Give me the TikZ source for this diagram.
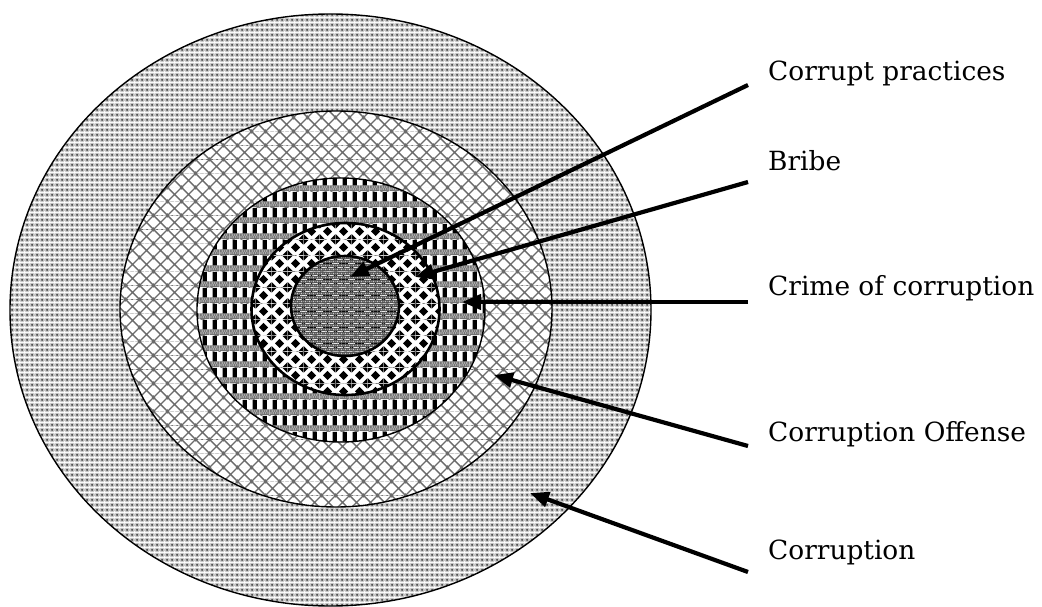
\documentclass[tikz,border=0pt]{standalone}
\usepackage{fontspec}
\setmainfont{DejaVu Serif}
\usetikzlibrary{patterns,arrows.meta}

% outer ring: grey dots on light grey
\pgfdeclarepatterninherentlycolored{ringdots}{\pgfpointorigin}{\pgfqpoint{5bp}{5bp}}{\pgfqpoint{5bp}{5bp}}{%
  \pgfsetfillcolor{black!22}%
  \pgfpathrectangle{\pgfpointorigin}{\pgfqpoint{5bp}{5bp}}\pgfusepath{fill}%
  \pgfsetfillcolor{black!72}%
  \pgfpathcircle{\pgfqpoint{2.5bp}{2.5bp}}{1.3bp}\pgfusepath{fill}%
  \pgfsetfillcolor{white}%
  \pgfpathcircle{\pgfqpoint{0bp}{0bp}}{0.8bp}\pgfpathcircle{\pgfqpoint{5bp}{0bp}}{0.8bp}%
  \pgfpathcircle{\pgfqpoint{0bp}{5bp}}{0.8bp}\pgfpathcircle{\pgfqpoint{5bp}{5bp}}{0.8bp}%
  \pgfusepath{fill}}

% second ring: diagonal cross hatch
\pgfdeclarepatterninherentlycolored{ringhatch}{\pgfpointorigin}{\pgfqpoint{14bp}{14bp}}{\pgfqpoint{14bp}{14bp}}{%
  \pgfsetfillcolor{white}%
  \pgfpathrectangle{\pgfpointorigin}{\pgfqpoint{14bp}{14bp}}\pgfusepath{fill}%
  \pgfsetstrokecolor{black!58}\pgfsetlinewidth{1.4bp}%
  \pgfpathmoveto{\pgfqpoint{-1bp}{-1bp}}\pgfpathlineto{\pgfqpoint{15bp}{15bp}}%
  \pgfpathmoveto{\pgfqpoint{-1bp}{15bp}}\pgfpathlineto{\pgfqpoint{15bp}{-1bp}}%
  \pgfpathmoveto{\pgfqpoint{13bp}{-1bp}}\pgfpathlineto{\pgfqpoint{15bp}{1bp}}%
  \pgfpathmoveto{\pgfqpoint{-1bp}{13bp}}\pgfpathlineto{\pgfqpoint{1bp}{15bp}}%
  \pgfpathmoveto{\pgfqpoint{-1bp}{1bp}}\pgfpathlineto{\pgfqpoint{1bp}{-1bp}}%
  \pgfpathmoveto{\pgfqpoint{13bp}{15bp}}\pgfpathlineto{\pgfqpoint{15bp}{13bp}}%
  \pgfusepath{stroke}}

% third ring: plaid of grey bands and black bars
\pgfdeclarepatterninherentlycolored{ringplaid}{\pgfpointorigin}{\pgfqpoint{10bp}{16bp}}{\pgfqpoint{10bp}{16bp}}{%
  \pgfsetfillcolor{white}%
  \pgfpathrectangle{\pgfpointorigin}{\pgfqpoint{10bp}{16bp}}\pgfusepath{fill}%
  \pgfsetfillcolor{black!55}%
  \pgfpathrectangle{\pgfpointorigin}{\pgfqpoint{10bp}{6bp}}\pgfusepath{fill}%
  \pgfsetfillcolor{black!22}%
  \pgfpathrectangle{\pgfqpoint{0.5bp}{1.5bp}}{\pgfqpoint{1.3bp}{1.3bp}}%
  \pgfpathrectangle{\pgfqpoint{3bp}{1.5bp}}{\pgfqpoint{1.3bp}{1.3bp}}%
  \pgfpathrectangle{\pgfqpoint{5.5bp}{1.5bp}}{\pgfqpoint{1.3bp}{1.3bp}}%
  \pgfpathrectangle{\pgfqpoint{8bp}{1.5bp}}{\pgfqpoint{1.3bp}{1.3bp}}%
  \pgfpathrectangle{\pgfqpoint{1.75bp}{3.5bp}}{\pgfqpoint{1.3bp}{1.3bp}}%
  \pgfpathrectangle{\pgfqpoint{4.25bp}{3.5bp}}{\pgfqpoint{1.3bp}{1.3bp}}%
  \pgfpathrectangle{\pgfqpoint{6.75bp}{3.5bp}}{\pgfqpoint{1.3bp}{1.3bp}}%
  \pgfusepath{fill}%
  \pgfsetfillcolor{black}%
  \pgfpathrectangle{\pgfqpoint{3bp}{6bp}}{\pgfqpoint{4.5bp}{10bp}}\pgfusepath{fill}}

% fourth ring: black diamonds on white
\pgfdeclarepatterninherentlycolored{ringdiamond}{\pgfpointorigin}{\pgfqpoint{16bp}{16bp}}{\pgfqpoint{16bp}{16bp}}{%
  \pgfsetfillcolor{white}%
  \pgfpathrectangle{\pgfpointorigin}{\pgfqpoint{16bp}{16bp}}\pgfusepath{fill}%
  \pgfsetfillcolor{black}%
  \pgfpathmoveto{\pgfqpoint{3.2bp}{8bp}}\pgfpathlineto{\pgfqpoint{8bp}{3.2bp}}%
  \pgfpathlineto{\pgfqpoint{12.8bp}{8bp}}\pgfpathlineto{\pgfqpoint{8bp}{12.8bp}}\pgfpathclose
  \pgfpathmoveto{\pgfqpoint{0bp}{0bp}}\pgfpathlineto{\pgfqpoint{4.8bp}{0bp}}\pgfpathlineto{\pgfqpoint{0bp}{4.8bp}}\pgfpathclose
  \pgfpathmoveto{\pgfqpoint{16bp}{0bp}}\pgfpathlineto{\pgfqpoint{11.2bp}{0bp}}\pgfpathlineto{\pgfqpoint{16bp}{4.8bp}}\pgfpathclose
  \pgfpathmoveto{\pgfqpoint{0bp}{16bp}}\pgfpathlineto{\pgfqpoint{4.8bp}{16bp}}\pgfpathlineto{\pgfqpoint{0bp}{11.2bp}}\pgfpathclose
  \pgfpathmoveto{\pgfqpoint{16bp}{16bp}}\pgfpathlineto{\pgfqpoint{11.2bp}{16bp}}\pgfpathlineto{\pgfqpoint{16bp}{11.2bp}}\pgfpathclose
  \pgfusepath{fill}}

% core: fine dark grey texture
\pgfdeclarepatterninherentlycolored{coretex}{\pgfpointorigin}{\pgfqpoint{4bp}{4bp}}{\pgfqpoint{4bp}{4bp}}{%
  \pgfsetfillcolor{black!68}%
  \pgfpathrectangle{\pgfpointorigin}{\pgfqpoint{4bp}{4bp}}\pgfusepath{fill}%
  \pgfsetfillcolor{black!15}%
  \pgfpathcircle{\pgfqpoint{2bp}{2bp}}{0.8bp}\pgfusepath{fill}%
  \pgfsetfillcolor{black!40}%
  \pgfpathcircle{\pgfqpoint{0bp}{2bp}}{0.5bp}\pgfpathcircle{\pgfqpoint{4bp}{2bp}}{0.5bp}%
  \pgfpathcircle{\pgfqpoint{2bp}{0bp}}{0.5bp}\pgfpathcircle{\pgfqpoint{2bp}{4bp}}{0.5bp}%
  \pgfusepath{fill}}

\tikzset{
  ring/.style={draw=black, line width=1.4bp},
  ringthick/.style={draw=black, line width=2.6bp},
  arr/.style={line width=4.2bp, -{Triangle[length=19bp,width=15bp]}},
  lbl/.style={anchor=base west, inner sep=0pt, font=\fontsize{26.5}{32}\selectfont}
}

\begin{document}
\begin{tikzpicture}[x=1bp,y=-1bp]
\useasboundingbox (0,0) rectangle (1042,607);

\path[ring, pattern=ringdots] (330.5,310) ellipse [x radius=320.5bp, y radius=296bp];
\path[ring, pattern=ringhatch] (336,309) ellipse [x radius=216bp, y radius=198bp];
\path[ring, pattern=ringplaid] (341,310) ellipse [x radius=144bp, y radius=132bp];
\path[ringthick, pattern=ringdiamond] (345.5,309) ellipse [x radius=94bp, y radius=86bp];
\path[ringthick, pattern=coretex] (345,306) ellipse [x radius=54bp, y radius=50bp];

\node[lbl] (l1) at (768,81) {Corrupt practices};
\node[lbl] (l2) at (768,171) {Bribe};
\node[lbl] (l3) at (768,296) {Crime of corruption};
\node[lbl] (l4) at (768,441) {Corruption Offense};
\node[lbl] (l5) at (768,559) {Corruption};

\coordinate (s1) at (748,85);
\coordinate (s2) at (748,182);
\coordinate (s3) at (748,302);
\coordinate (s4) at (748,446);
\coordinate (s5) at (748,572);

\coordinate (t1) at (350,277);
\coordinate (t2) at (415,277);
\coordinate (t3) at (462,302);
\coordinate (t4) at (494,375);
\coordinate (t5) at (530,493);

\draw[arr] (s1) -- (t1);
\draw[arr] (s2) -- (t2);
\draw[arr] (s3) -- (t3);
\draw[arr] (s4) -- (t4);
\draw[arr] (s5) -- (t5);
\end{tikzpicture}
\end{document}
